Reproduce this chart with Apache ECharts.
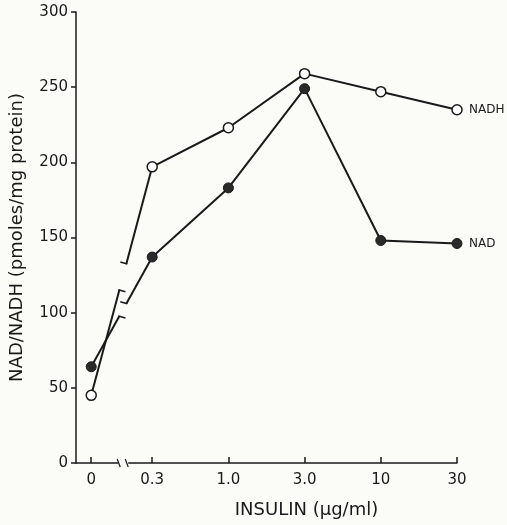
<!DOCTYPE html>
<html>
<head>
<meta charset="utf-8">
<script src="https://cdn.jsdelivr.net/npm/echarts@6/dist/echarts.min.js"></script>
<style>
  html, body { margin: 0; padding: 0; background: #fbfbf8; }
  #chart { width: 507px; height: 525px; }
</style>
</head>
<body>
<div id="chart"></div>
<script>
// insulin doses (tick labels) and where they sit on the broken x axis
const doses = ['0', '0.3', '1.0', '3.0', '10', '30']
const xPos = [0.2, 1, 2, 3, 4, 5]
// pmoles / mg protein
const nadh = [45, 197, 223, 259, 247, 235]
const nad = [64, 137, 183, 249, 148, 146]

const INK = '#1a1a1a'
const BG = '#fbfbf8'
const FONT = 'DejaVu Sans'
const BREAK_X = [0.57, 0.66] // gap on the first segment (axis units)
const AXIS_BREAK = 0.62

function pts(vals, from, to) {
  const out = []
  for (let i = from; i < to; i++) out.push([xPos[i], vals[i]])
  return out
}

// first segment (0 -> 0.3) drawn with a break in it
function renderBroken(params, api) {
  const p0 = api.coord([api.value(0), api.value(1)])
  const p1 = api.coord([api.value(2), api.value(3)])
  const ga = api.coord([BREAK_X[0], 0])[0]
  const gb = api.coord([BREAK_X[1], 0])[0]
  const ta = (ga - p0[0]) / (p1[0] - p0[0])
  const tb = (gb - p0[0]) / (p1[0] - p0[0])
  const a = [p0[0] + (p1[0] - p0[0]) * ta, p0[1] + (p1[1] - p0[1]) * ta]
  const b = [p0[0] + (p1[0] - p0[0]) * tb, p0[1] + (p1[1] - p0[1]) * tb]
  const st = { stroke: INK, lineWidth: 2 }
  const tick = { stroke: INK, lineWidth: 1.5 }
  return {
    type: 'group',
    children: [
      { type: 'line', shape: { x1: p0[0], y1: p0[1], x2: a[0], y2: a[1] }, style: st },
      { type: 'line', shape: { x1: b[0], y1: b[1], x2: p1[0], y2: p1[1] }, style: st },
      { type: 'line', shape: { x1: a[0] - 1, y1: a[1], x2: a[0] + 6, y2: a[1] + 2 }, style: tick },
      { type: 'line', shape: { x1: b[0] + 1, y1: b[1], x2: b[0] - 6, y2: b[1] - 2 }, style: tick }
    ]
  }
}

// the "\\" break on the x axis
function renderAxisBreak(params, api) {
  const c = api.coord([api.value(0), api.value(1)])
  return {
    type: 'group',
    children: [
      { type: 'rect', shape: { x: c[0] - 5, y: c[1] - 3, width: 10, height: 6 }, style: { fill: BG } },
      { type: 'line', shape: { x1: c[0] - 6, y1: c[1] - 4, x2: c[0] - 3, y2: c[1] + 4 }, style: { stroke: INK, lineWidth: 1.2 } },
      { type: 'line', shape: { x1: c[0] + 2, y1: c[1] - 4, x2: c[0] + 5, y2: c[1] + 4 }, style: { stroke: INK, lineWidth: 1.2 } }
    ]
  }
}

const chart = echarts.init(document.getElementById('chart'))

function markerStyle(filled) {
  return { color: filled ? '#2a2a2a' : '#ffffff', borderColor: INK, borderWidth: filled ? 1 : 1.5, opacity: 1 }
}

function lineSeries(name, vals, filled) {
  return {
    name: name,
    type: 'line',
    data: pts(vals, 1, vals.length),
    symbol: 'circle',
    symbolSize: 10,
    z: 3,
    lineStyle: { color: INK, width: 2 },
    itemStyle: markerStyle(filled),
    endLabel: {
      show: true,
      formatter: name,
      distance: 12,
      color: INK,
      fontFamily: FONT,
      fontSize: 12
    }
  }
}

function firstPoint(name, vals, filled) {
  return {
    name: name + '-0',
    type: 'scatter',
    data: [[xPos[0], vals[0]]],
    symbol: 'circle',
    symbolSize: 10,
    z: 4,
    itemStyle: markerStyle(filled)
  }
}

chart.setOption({
  backgroundColor: BG,
  animation: false,
  grid: { left: 76, top: 12, right: 50, bottom: 62 },
  xAxis: {
    type: 'value',
    min: 0,
    max: 5,
    name: 'INSULIN (μg/ml)',
    nameLocation: 'middle',
    nameGap: 38,
    nameTextStyle: { color: INK, fontFamily: FONT, fontSize: 18, padding: [0, 0, 0, 80] },
    splitLine: { show: false },
    axisLine: { lineStyle: { color: INK, width: 1.5 } },
    axisTick: { inside: true, length: 6, customValues: xPos, lineStyle: { color: INK, width: 1.5 } },
    axisLabel: {
      customValues: xPos,
      formatter: function (v) {
        const i = xPos.indexOf(v)
        return i >= 0 ? doses[i] : ''
      },
      color: INK,
      fontFamily: FONT,
      fontSize: 15,
      margin: 10
    }
  },
  yAxis: {
    type: 'value',
    min: 0,
    max: 300,
    interval: 50,
    name: 'NAD/NADH (pmoles/mg protein)',
    nameLocation: 'middle',
    nameGap: 50,
    nameTextStyle: { color: INK, fontFamily: FONT, fontSize: 18 },
    splitLine: { show: false },
    axisLine: { show: true, lineStyle: { color: INK, width: 1.5 } },
    axisTick: { show: true, length: 5, lineStyle: { color: INK, width: 1.5 } },
    axisLabel: { color: INK, fontFamily: FONT, fontSize: 15, margin: 8 }
  },
  series: [
    {
      type: 'custom',
      renderItem: renderBroken,
      data: [
        [xPos[0], nadh[0], xPos[1], nadh[1]],
        [xPos[0], nad[0], xPos[1], nad[1]]
      ],
      encode: { x: [0, 2], y: [1, 3] },
      z: 2,
      silent: true
    },
    {
      type: 'custom',
      renderItem: renderAxisBreak,
      data: [[AXIS_BREAK, 0]],
      encode: { x: 0, y: 1 },
      z: 2,
      silent: true,
      clip: false
    },
    lineSeries('NADH', nadh, false),
    lineSeries('NAD', nad, true),
    firstPoint('NADH', nadh, false),
    firstPoint('NAD', nad, true)
  ]
})
</script>
</body>
</html>
